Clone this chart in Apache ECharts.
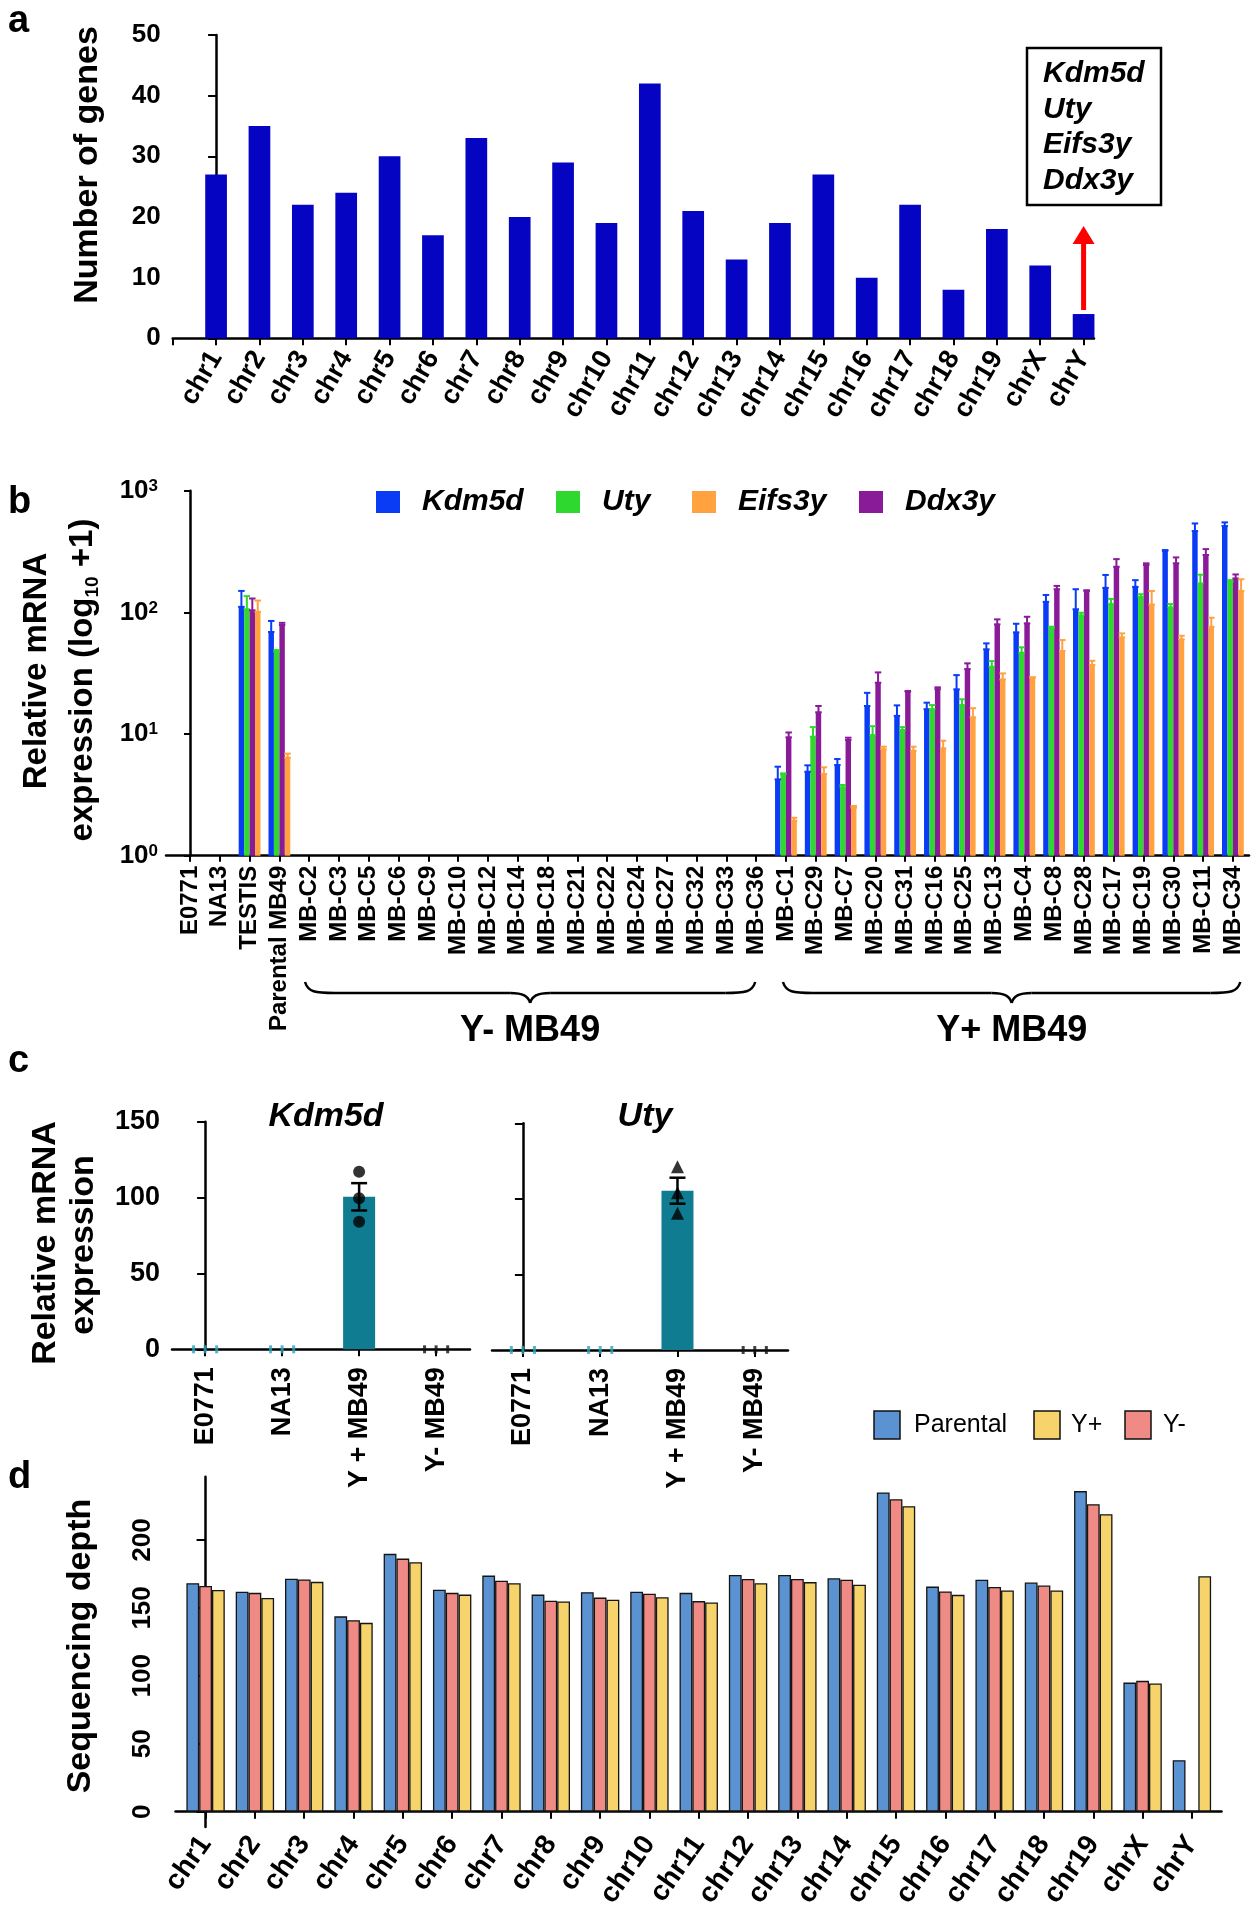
<!DOCTYPE html>
<html><head><meta charset="utf-8">
<script src="https://cdn.jsdelivr.net/npm/echarts@6/dist/echarts.min.js"></script>
<style>html,body{margin:0;padding:0;background:#fff}#c{width:1260px;height:1921px}</style>
</head><body><div id="c"></div>
<script>
// ---------- Panel a ----------
const chromosomes = ['chr1','chr2','chr3','chr4','chr5','chr6','chr7','chr8','chr9','chr10','chr11','chr12','chr13','chr14','chr15','chr16','chr17','chr18','chr19','chrX','chrY'];
const genesPerChrom = [27,35,22,24,30,17,33,20,29,19,42,21,13,19,27,10,22,8,18,12,4];
const yGenes = ['Kdm5d','Uty','Eifs3y','Ddx3y'];

// ---------- Panel b ----------
const samples = ['E0771','NA13','TESTIS','Parental MB49','MB-C2','MB-C3','MB-C5','MB-C6','MB-C9','MB-C10','MB-C12','MB-C14','MB-C18','MB-C21','MB-C22','MB-C24','MB-C27','MB-C32','MB-C33','MB-C36','MB-C1','MB-C29','MB-C7','MB-C20','MB-C31','MB-C16','MB-C25','MB-C13','MB-C4','MB-C8','MB-C28','MB-C17','MB-C19','MB-C30','MB-C11','MB-C34'];
const kdm5dMean  = [null,null,111,69,  null,null,null,null,null,null,null,null,null,null,null,null,null,null,null,null, 4.24,4.9,5.56,17.0,14.1,16.0,23.3,49.7,68.5,122,106,159,162,321,466,512];
const kdm5dUpper = [null,null,150,85,  null,null,null,null,null,null,null,null,null,null,null,null,null,null,null,null, 5.39,5.53,6.23,21.8,17.2,18.1,30.5,55.6,80.6,139,155,203,184,325,538,549];
const utyMean    = [null,null,106,47.5,null,null,null,null,null,null,null,null,null,null,null,null,null,null,null,null, 4.67,9.5,3.65,9.8,10.8,16.0,17.3,35.7,46.6,73.9,94.5,117,134,110,173,178];
const utyUpper   = [null,null,136,49,  null,null,null,null,null,null,null,null,null,null,null,null,null,null,null,null, 4.75,11.4,3.81,11.6,11.4,17.3,19.3,39.8,51.6,76.2,99.3,129,141,117,204,184];
const ddx3yMean  = [null,null,104,78.7,null,null,null,null,null,null,null,null,null,null,null,null,null,null,null,null, 9.4,15.1,8.93,26.4,22.3,23.4,34.2,79.7,81.2,155,150,237,245,253,296,190];
const ddx3yUpper = [null,null,130,82,  null,null,null,null,null,null,null,null,null,null,null,null,null,null,null,null, 10.3,17.0,9.33,32.1,22.6,24.2,38.1,87.6,92.0,165,152,274,253,283,331,205];
const eifs3yMean = [null,null,101,6.4, null,null,null,null,null,null,null,null,null,null,null,null,null,null,null,null, 1.94,4.69,2.48,7.5,7.29,7.63,13.7,28.1,29.2,48.1,36.9,62.3,116,60,76,150];
const eifs3yUpper= [null,null,125,6.9, null,null,null,null,null,null,null,null,null,null,null,null,null,null,null,null, 2.05,5.33,2.56,7.87,7.87,8.81,16.3,31.5,29.2,59.2,40.0,67.2,150,64.2,90.3,187];
const groupYminus = [3.86, 18.97];   // brace extent (category units)
const groupYplus  = [19.9, 35.25];

// ---------- Panel c ----------
const cLines = ['E0771','NA13','Y + MB49','Y- MB49'];
const kdm5dRel = [0, 0, 100.5, 0];
const kdm5dSem = [0, 0, 9.0, 0];
const kdm5dReps = [[0,0,0],[0,0,0],[117,99.5,84],[0,0,0]];
const utyRel = [0, 0, 105.4, 0];
const utySem = [0, 0, 8.6, 0];
const utyReps = [[0,0,0],[0,0,0],[121.3,104.1,90.5],[0,0,0]];

// ---------- Panel d ----------
const depthGroups = ['Parental','Y+','Y-'];
const depthParental = [168.2,161.9,171.5,143.8,189.8,163.4,173.8,159.8,161.6,161.9,161.1,174.3,174.3,171.8,235,165.7,170.8,168.7,236,95,37.9];
const depthYminus   = [166.2,161.1,171,141,186.3,161.1,170,155.3,157.6,160.4,155,171.3,171.3,170.8,230,162.1,165.4,166.5,226.4,96.3,0];
const depthYplus    = [163.2,157.3,169.2,139,183.7,159.8,168.2,154.8,156,157.8,154,168.2,169,167,224.9,159.6,162.9,162.9,219,94.3,173.3];

// ---------- styling ----------
const FONT = "'Liberation Sans', Arial, Helvetica, sans-serif";
const geneColors = {Kdm5d:'#0a3cf5', Uty:'#2fd82f', Eifs3y:'#ffa23f', Ddx3y:'#8a1b98'};
const depthColors = {'Parental':'#5b93d2','Y+':'#f6d36b','Y-':'#ef8a85'};
const TEAL = '#0f7c91';
const idx = n => Array.from({length:n}, (_, i) => i);
const axLine = {show:true, lineStyle:{color:'#000', width:2.5}};
const axTick = (len, extra) => Object.assign({show:true, length:len, lineStyle:{color:'#000', width:2}}, extra||{});
const lbl = (o) => Object.assign({fontWeight:'bold', color:'#000', fontFamily:FONT}, o);

const chart = echarts.init(document.getElementById('c'), null, {width:1260, height:1921});

// panel b helpers
const bw = 5.45;
const bOrder = [['Kdm5d',kdm5dMean,kdm5dUpper],['Uty',utyMean,utyUpper],['Ddx3y',ddx3yMean,ddx3yUpper],['Eifs3y',eifs3yMean,eifs3yUpper]];
const bBars = bOrder.map(([g, m]) => ({
  type:'bar', name:g, xAxisIndex:1, yAxisIndex:1, barWidth:bw, barGap:'0%',
  itemStyle:{color:geneColors[g]},
  data: m.map((v,i)=>v==null?null:[i,v]).filter(d=>d)
}));
const bErr = bOrder.map(([g, m, u], k) => ({
  type:'custom', xAxisIndex:1, yAxisIndex:1, z:4,
  data: m.map((v,i)=>v==null?null:[i,v,u[i]]).filter(d=>d),
  renderItem(params, api){
    const x = api.value(0), p0 = api.coord([x, api.value(1)]), p1 = api.coord([x, api.value(2)]);
    const cx = p0[0] + (k - 1.5) * bw;
    const st = {stroke:geneColors[g], lineWidth:2};
    return {type:'group', children:[
      {type:'line', shape:{x1:cx,y1:p0[1],x2:cx,y2:p1[1]}, style:st},
      {type:'line', shape:{x1:cx-bw/2-0.5,y1:p1[1],x2:cx+bw/2+0.5,y2:p1[1]}, style:st},
      {type:'line', shape:{x1:cx-bw/2-0.5,y1:p0[1],x2:cx+bw/2+0.5,y2:p0[1]}, style:st}
    ]};
  }
}));

// panel c helpers
function panelC(gi, means, sems, reps, symbol, symSize){
  const bar = {type:'bar', xAxisIndex:gi, yAxisIndex:gi, barWidth:32, itemStyle:{color:TEAL},
    data: means.map((v,i)=>[i,v])};
  const err = {type:'custom', xAxisIndex:gi, yAxisIndex:gi, z:4,
    data: means.map((v,i)=>[i,v,sems[i]]).filter(d=>d[2]>0),
    renderItem(params, api){
      const x = api.value(0), m = api.value(1), e = api.value(2);
      const hi = api.coord([x, m+e]), lo = api.coord([x, m-e]), cx = hi[0], hw = 8;
      const st = {stroke:'#000', lineWidth:2.5};
      return {type:'group', children:[
        {type:'line', shape:{x1:cx,y1:hi[1],x2:cx,y2:lo[1]}, style:st},
        {type:'line', shape:{x1:cx-hw,y1:hi[1],x2:cx+hw,y2:hi[1]}, style:st},
        {type:'line', shape:{x1:cx-hw,y1:lo[1],x2:cx+hw,y2:lo[1]}, style:st}
      ]};
    }};
  const jitter = [-0.15, 0, 0.15];
  const ptsBig = [], ptsSmall = [];
  reps.forEach((arr,i)=>{
    if (means[i] > 0) arr.forEach(v=>ptsBig.push([i,v]));
    else arr.forEach((v,j)=>ptsSmall.push({value:[i+jitter[j], v], itemStyle:{color: i===3 ? '#111' : '#2aa6bd'}}));
  });
  const big = {type:'scatter', xAxisIndex:gi, yAxisIndex:gi, z:5, symbol, symbolSize:symSize, itemStyle:{color:'#000'}, data:ptsBig};
  const small = {type:'scatter', xAxisIndex:gi, yAxisIndex:gi, z:5, symbol:'rect', symbolSize:[3,8], data:ptsSmall};
  return [bar, err, big, small];
}

const dSeries = [['Parental',depthParental],['Y-',depthYminus],['Y+',depthYplus]].map(([n, arr]) => ({
  type:'bar', name:n, xAxisIndex:4, yAxisIndex:4, barWidth:12.8, barGap:'0%',
  itemStyle:{color:depthColors[n], borderColor:'#151515', borderWidth:1.3},
  data: arr.map((v,i)=>[i,v])
}));

const catA = v => chromosomes[v] || '';
const bMin = -0.805, bMax = 35.54;

const option = {
  animation:false,
  backgroundColor:'#fff',
  textStyle:{fontFamily:FONT, color:'#000'},
  grid:[
    {left:172.7, top:35, width:921.3, height:303.3},
    {left:166, top:490.7, width:1083, height:365},
    {left:172, top:1121.7, width:298, height:227.6},
    {left:492, top:1123.3, width:296, height:226.7},
    {left:175.5, top:1476.7, width:1046, height:350.3}
  ],
  xAxis:[
    {type:'value', gridIndex:0, min:-1, max:20.24, axisLine:axLine, splitLine:{show:false},
     axisTick:axTick(7,{customValues:[-1].concat(idx(chromosomes.length))}),
     axisLabel:lbl({customValues:idx(chromosomes.length), formatter:catA, rotate:60, margin:15, fontSize:27})},
    {type:'value', gridIndex:1, min:bMin, max:bMax, axisLine:axLine, splitLine:{show:false},
     axisTick:axTick(6,{customValues:idx(samples.length)}),
     axisLabel:lbl({customValues:idx(samples.length), formatter:v=>samples[v]||'', rotate:90, margin:10, fontSize:24})},
    {type:'value', gridIndex:2, min:-0.43, max:3.44, axisLine:axLine, splitLine:{show:false},
     axisTick:axTick(7,{customValues:idx(cLines.length)}),
     axisLabel:lbl({customValues:idx(cLines.length), formatter:v=>cLines[v]||'', rotate:90, margin:18, fontSize:27})},
    {type:'value', gridIndex:3, min:-0.4, max:3.43, axisLine:axLine, splitLine:{show:false},
     axisTick:axTick(7,{customValues:idx(cLines.length)}),
     axisLabel:lbl({customValues:idx(cLines.length), formatter:v=>cLines[v]||'', rotate:90, margin:18, fontSize:27})},
    {type:'value', gridIndex:4, min:-0.61, max:20.6, axisLine:axLine, splitLine:{show:false},
     axisTick:axTick(7,{customValues:idx(chromosomes.length)}),
     axisLabel:lbl({customValues:idx(chromosomes.length), formatter:catA, rotate:55, margin:12, fontSize:28})}
  ],
  yAxis:[
    {type:'value', gridIndex:0, min:0, max:50, interval:10, axisLine:axLine, axisTick:axTick(8), splitLine:{show:false},
     axisLabel:lbl({margin:12, fontSize:26})},
    {type:'log', logBase:10, gridIndex:1, min:1, max:1000, axisLine:axLine, axisTick:axTick(6), splitLine:{show:false}, minorTick:{show:false},
     axisLabel:{margin:8, color:'#000', formatter:v=>'{b|10}{s|'+Math.round(Math.log10(v))+'}',
       rich:{b:{fontSize:26, fontWeight:'bold', fontFamily:FONT, color:'#000'}, s:{fontSize:17, fontWeight:'bold', fontFamily:FONT, color:'#000', verticalAlign:'top'}}}},
    {type:'value', gridIndex:2, min:0, max:150, interval:50, axisLine:axLine, axisTick:axTick(8), splitLine:{show:false},
     axisLabel:lbl({margin:12, fontSize:27})},
    {type:'value', gridIndex:3, min:0, max:150, interval:50, axisLine:axLine, axisTick:axTick(8), splitLine:{show:false},
     axisLabel:{show:false}},
    {type:'value', gridIndex:4, min:-11.3, max:246.6, axisLine:axLine, splitLine:{show:false},
     axisTick:axTick(9,{customValues:[0,50,100,150,200]}),
     axisLabel:lbl({customValues:[0,50,100,150,200], rotate:90, margin:20, fontSize:26})}
  ],
  series:[
    {type:'bar', xAxisIndex:0, yAxisIndex:0, barWidth:21.7, itemStyle:{color:'#0404c2'},
     data:genesPerChrom.map((v,i)=>[i,v])},
    ...bBars, ...bErr,
    ...panelC(2, kdm5dRel, kdm5dSem, kdm5dReps, 'circle', 12),
    ...panelC(3, utyRel, utySem, utyReps, 'triangle', 13),
    ...dSeries
  ]
};
chart.setOption(option);

// ---------- annotations ----------
const G = [];
const txt = (x, y, text, o) => G.push(Object.assign({type:'text', x, y, z:10, style:Object.assign({text, fill:'#000', fontFamily:FONT, fontSize:34, fontWeight:'bold', align:'center', verticalAlign:'middle'}, o && o.style || {})}, o && o.el || {}));
const vtxt = (x, y, text, style) => txt(x, y, text, {el:{rotation:Math.PI/2}, style});

// panel letters
[['a',22],['b',503],['c',1062],['d',1478]].forEach(([t,y])=>txt(8, y, t, {style:{align:'left', fontSize:38}}));

// panel a
vtxt(88, 165, 'Number of genes', {fontSize:34});
G.push({type:'rect', z:10, shape:{x:1027, y:48, width:134, height:157}, style:{fill:'#fff', stroke:'#000', lineWidth:2.5}});
yGenes.forEach((g,i)=>txt(1043, 74 + i*35.5, g, {style:{align:'left', fontSize:30, fontStyle:'italic'}}));
const yTop = chart.convertToPixel({gridIndex:0}, [chromosomes.length-1, genesPerChrom[genesPerChrom.length-1]]);
G.push({type:'line', z:10, shape:{x1:yTop[0], y1:yTop[1]-4, x2:yTop[0], y2:yTop[1]-76}, style:{stroke:'#ff0000', lineWidth:5}});
G.push({type:'polygon', z:10, shape:{points:[[yTop[0], yTop[1]-88],[yTop[0]-11, yTop[1]-70],[yTop[0]+11, yTop[1]-70]]}, style:{fill:'#ff0000'}});

// panel b title
vtxt(37, 671, 'Relative mRNA', {fontSize:33});
vtxt(83, 680, '{t|expression (log}{s|10}{t| +1)}', {rich:{t:{fontSize:33, fontWeight:'bold', fontFamily:FONT, fill:'#000', lineHeight:38}, s:{fontSize:19, fontWeight:'bold', fontFamily:FONT, fill:'#000', verticalAlign:'bottom', lineHeight:22}}});
// panel b legend
const legX = [376, 556, 692, 859];
yGenes.forEach((g,i)=>{
  G.push({type:'rect', z:10, shape:{x:legX[i], y:491, width:24, height:22}, style:{fill:geneColors[g]}});
  txt(legX[i]+46, 502, g, {style:{align:'left', fontSize:30, fontStyle:'italic'}});
});
// braces
function brace(range, label){
  const y0 = 982, yf = 993, yt = 1003;
  const xL = chart.convertToPixel({gridIndex:1}, [range[0], 1])[0];
  const xR = chart.convertToPixel({gridIndex:1}, [range[1], 1])[0];
  const xM = (xL + xR) / 2;
  const st = {stroke:'#000', lineWidth:2.5, fill:null};
  G.push({type:'bezierCurve', z:10, shape:{x1:xL, y1:y0, cpx1:xL+3, cpy1:yf-1, cpx2:xL+10, cpy2:yf, x2:xL+30, y2:yf}, style:st});
  G.push({type:'line', z:10, shape:{x1:xL+30, y1:yf, x2:xM-20, y2:yf}, style:st});
  G.push({type:'bezierCurve', z:10, shape:{x1:xM-20, y1:yf, cpx1:xM-7, cpy1:yf, cpx2:xM-2, cpy2:yf+3, x2:xM, y2:yt}, style:st});
  G.push({type:'bezierCurve', z:10, shape:{x1:xM+20, y1:yf, cpx1:xM+7, cpy1:yf, cpx2:xM+2, cpy2:yf+3, x2:xM, y2:yt}, style:st});
  G.push({type:'line', z:10, shape:{x1:xM+20, y1:yf, x2:xR-30, y2:yf}, style:st});
  G.push({type:'bezierCurve', z:10, shape:{x1:xR, y1:y0, cpx1:xR-3, cpy1:yf-1, cpx2:xR-10, cpy2:yf, x2:xR-30, y2:yf}, style:st});
  txt(xM, 1031, label, {style:{fontSize:36}});
}
brace(groupYminus, 'Y- MB49');
brace(groupYplus, 'Y+ MB49');

// panel c titles
vtxt(46, 1243, 'Relative mRNA', {fontSize:34});
vtxt(84, 1245, 'expression', {fontSize:34});
txt(326, 1117, yGenes[0], {style:{fontSize:34, fontStyle:'italic'}});
txt(645, 1117, yGenes[1], {style:{fontSize:34, fontStyle:'italic'}});

// panel d
vtxt(81, 1646, 'Sequencing depth', {fontSize:34});
const dLeg = [[874, 914], [1034, 1071], [1125, 1163]];
depthGroups.forEach((n,i)=>{
  G.push({type:'rect', z:10, shape:{x:dLeg[i][0], y:1411, width:26, height:28}, style:{fill:depthColors[n], stroke:'#111', lineWidth:1.5}});
  txt(dLeg[i][1], 1425, n, {style:{align:'left', fontSize:25, fontWeight:'normal'}});
});

chart.setOption({graphic:G});
</script></body></html>
